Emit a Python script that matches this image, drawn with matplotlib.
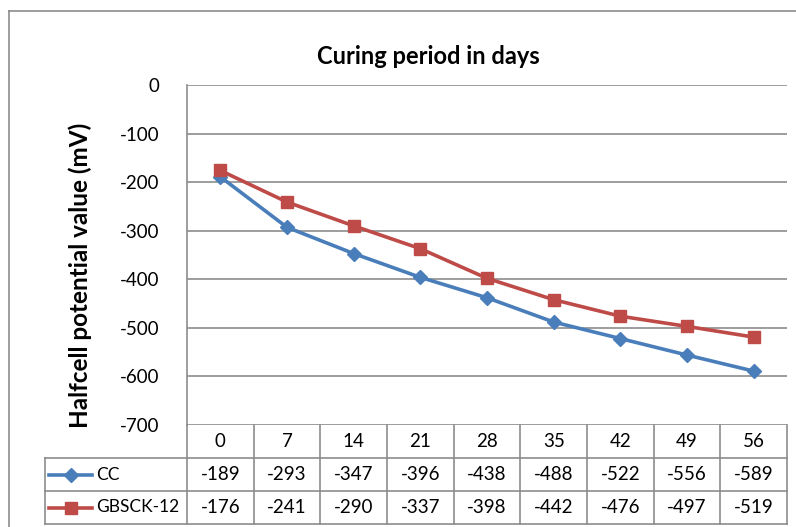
import matplotlib
matplotlib.use("Agg")
import matplotlib.pyplot as plt
import matplotlib.transforms as mtransforms
from matplotlib.lines import Line2D

plt.rcParams['font.family'] = ['Lato', 'DejaVu Sans']

days = ['0', '7', '14', '21', '28', '35', '42', '49', '56']
cc = [-189, -293, -347, -396, -438, -488, -522, -556, -589]
gbsck = [-176, -241, -290, -337, -398, -442, -476, -497, -519]
series_names = ['CC', 'GBSCK-12']
yticks = [0, -100, -200, -300, -400, -500, -600, -700]

blue = '#4A7EBB'
red = '#BE4B48'
grid = '#8C8C8C'
fs = 13.5

W, H = 796, 527
fig = plt.figure(figsize=(W / 100, H / 100), dpi=100)
ax = fig.add_axes([187 / W, 1 - 425 / H, 600 / W, 340 / H])

x = list(range(len(days)))
ax.plot(x, cc, color=blue, lw=2.6, marker='D', ms=7.5, mfc=blue, mec=blue, zorder=3)
ax.plot(x, gbsck, color=red, lw=2.6, marker='s', ms=9, mfc=red, mec=red, zorder=4)

ax.set_xlim(-0.5, len(days) - 0.5)
ax.set_ylim(-700, 0)
ax.set_yticks(yticks)
ax.set_yticklabels([str(v) for v in yticks], fontsize=fs)
ax.tick_params(axis='y', length=0, pad=20)
ax.set_xticks([])
for v in yticks:
    ax.axhline(v, color=grid, lw=1.2, zorder=1)
for s in ['top', 'right', 'bottom']:
    ax.spines[s].set_visible(False)
ax.spines['left'].set_color(grid)
ax.spines['left'].set_linewidth(1.2)

ax.set_ylabel('Halfcell potential value (mV)', fontsize=17.5, fontweight='bold')
ax.yaxis.set_label_coords(-0.158, 0.44)
fig.text(428 / W, 1 - 57 / H, 'Curing period in days', fontsize=17, fontweight='bold',
         ha='center', va='center')

# data table below the plot
tr = mtransforms.blended_transform_factory(ax.transData, ax.transAxes)
rh = 33 / 340
n = len(days)
px = 600 / n
lab_left = -0.5 - 142 / px
kw = dict(color=grid, lw=1.2, transform=tr, clip_on=False)
# horizontal lines
ax.add_line(Line2D([lab_left, n - 0.5], [-rh, -rh], **kw))
ax.add_line(Line2D([lab_left, n - 0.5], [-2 * rh, -2 * rh], **kw))
ax.add_line(Line2D([lab_left, n - 0.5], [-3 * rh, -3 * rh], **kw))
# vertical lines
for i in range(n + 1):
    ax.add_line(Line2D([i - 0.5, i - 0.5], [0, -3 * rh], **kw))
ax.add_line(Line2D([lab_left, lab_left], [-rh, -3 * rh], **kw))

for i, d in enumerate(days):
    ax.text(i, -0.5 * rh, d, transform=tr, ha='center', va='center', fontsize=fs)
for row, (vals, name, col, mk, ms) in enumerate(
        [(cc, series_names[0], blue, 'D', 7.5), (gbsck, series_names[1], red, 's', 9)]):
    yc = -(row + 1.5) * rh
    for i, v in enumerate(vals):
        ax.text(i, yc, str(v), transform=tr, ha='center', va='center', fontsize=fs)
    k0 = lab_left + 4 / px
    k1 = lab_left + 47 / px
    ax.add_line(Line2D([k0, k1], [yc, yc], color=col, lw=2.6, transform=tr, clip_on=False))
    ax.add_line(Line2D([(k0 + k1) / 2], [yc], color=col, marker=mk, ms=ms, mec=col,
                       transform=tr, clip_on=False))
    ax.text(lab_left + 51 / px, yc, name, transform=tr, ha='left', va='center',
            fontsize=12.5)

# outer chart border
fig.add_artist(Line2D([9 / W, 9 / W], [0, 1 - 11 / H], color=grid, lw=1.2,
                      transform=fig.transFigure))
fig.add_artist(Line2D([9 / W, 1], [1 - 11 / H, 1 - 11 / H], color=grid, lw=1.2,
                      transform=fig.transFigure))

fig.savefig('out.png', dpi=100)
